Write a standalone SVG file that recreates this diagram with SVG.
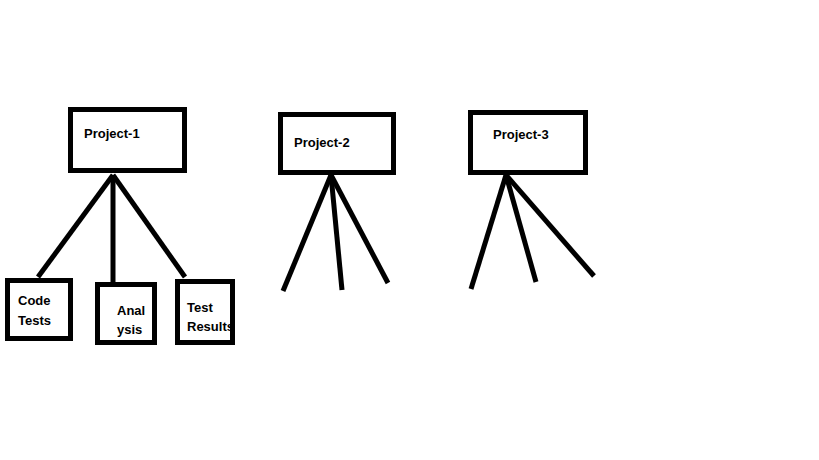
<svg xmlns="http://www.w3.org/2000/svg" width="819" height="460" viewBox="0 0 819 460">
<style>
.box{fill:#fff;stroke:#000;stroke-width:5}
.lbl{font-family:"Liberation Sans",Arial,sans-serif;font-weight:bold;font-size:13px;fill:#000}
.con line{stroke:#000;stroke-width:5}
</style>
<rect width="819" height="460" fill="#fff"/>
<g id="connectors" class="con">
<line x1="113" y1="175" x2="38" y2="277"/>
<line x1="113" y1="175" x2="113" y2="282"/>
<line x1="113" y1="175" x2="185" y2="277"/>
<line x1="331" y1="175" x2="283" y2="291"/>
<line x1="331" y1="175" x2="342" y2="290"/>
<line x1="331" y1="175" x2="388" y2="283"/>
<line x1="506" y1="175" x2="471" y2="289"/>
<line x1="506" y1="175" x2="536" y2="282"/>
<line x1="506" y1="175" x2="594" y2="276"/>
</g>
<g id="project1"><rect class="box" x="70.5" y="109.5" width="114" height="61"/><text class="lbl" x="84" y="138">Project-1</text></g>
<g id="project2"><rect class="box" x="280.5" y="114.5" width="113" height="58"/><text class="lbl" x="294" y="147">Project-2</text></g>
<g id="project3"><rect class="box" x="470.5" y="112.5" width="115" height="60"/><text class="lbl" x="493" y="139">Project-3</text></g>
<g id="codetests"><rect class="box" x="7.5" y="280.5" width="63" height="58"/><text class="lbl" x="18" y="305">Code</text><text class="lbl" x="18" y="325">Tests</text></g>
<g id="analysis"><rect class="box" x="97.5" y="284.5" width="57" height="58"/><text class="lbl" x="117" y="315">Anal</text><text class="lbl" x="117" y="334">ysis</text></g>
<g id="testresults"><text class="lbl" x="187" y="312">Test</text><text class="lbl" x="187" y="331">Results</text><rect x="177.5" y="281.5" width="55" height="61" fill="none" stroke="#000" stroke-width="5"/></g>
</svg>
